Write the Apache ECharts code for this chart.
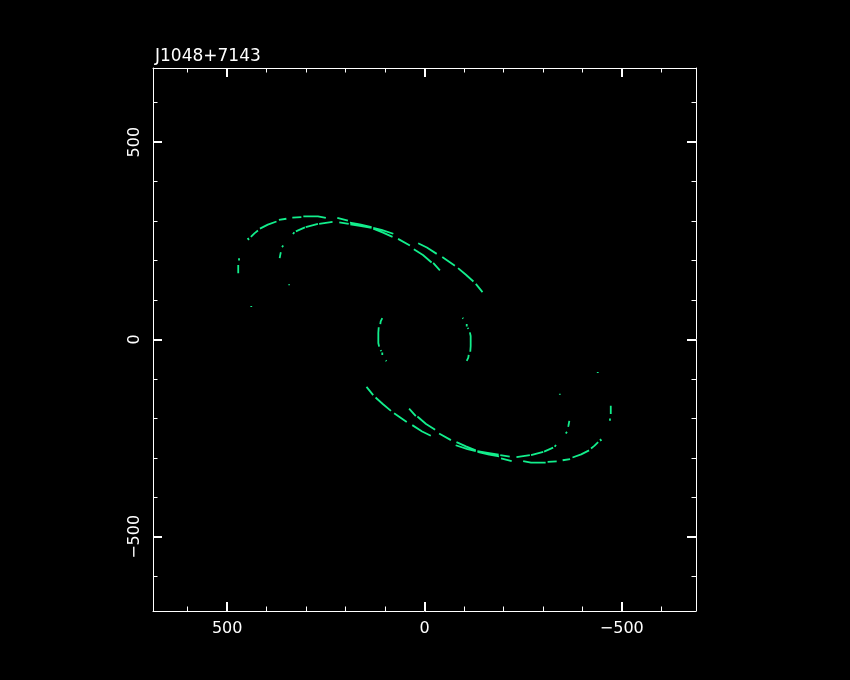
<!DOCTYPE html>
<html>
<head>
<meta charset="utf-8">
<script src="https://cdn.jsdelivr.net/npm/echarts@6/dist/echarts.min.js"></script>
<style>
html,body{margin:0;padding:0;background:#000;}
#chart{width:850px;height:680px;}
</style>
</head>
<body>
<div id="chart"></div>
<script>
// ---- data (u, v); the conjugate points (-u,-v) are plotted too ----
const chartTitle = 'J1048+7143';
const axisMin = -688;
const axisMax = 688;
const majorTicks = [-500, 0, 500];
const minorTicks = [-600, -400, -300, -200, -100, 100, 200, 300, 400, 600];

// outer large track (upper-left half), segments separated by gaps
const outerTrack = [
  [[472, 168], [472, 189]],
  [[470, 200], [470, 206]],
  [[445, 252], [448, 257]],
  [[440, 260], [431, 269], [422, 276]],
  [[417, 281], [397, 291], [375, 299]],
  [[369, 303], [350, 306]],
  [[335, 309], [312, 310]],
  [[307, 312], [270, 312], [250, 308]],
  [[221, 308], [194, 301]],
  [[189, 296], [164, 292], [134, 285]],
  [[130, 283], [109, 278], [79, 268]],
  [[16, 244], [-6, 233], [-31, 217]],
  [[-45, 209], [-77, 187]],
  [[-85, 181], [-105, 164], [-124, 147]],
  [[-130, 141], [-147, 120]]
];

// inner large track (upper-left half)
const innerTrack = [
  [[367, 206], [365, 217], [364, 221]],
  [[361, 234], [358, 238]],
  [[333, 267], [330, 272]],
  [[326, 274], [303, 284]],
  [[301, 285], [270, 293]],
  [[267, 293], [233, 298]],
  [[216, 297], [192, 293]],
  [[188, 292], [164, 288], [134, 283]],
  [[130, 281], [105, 271], [81, 260]],
  [[67, 255], [37, 238]],
  [[27, 229], [4, 214], [-18, 195]],
  [[-22, 194], [-39, 175]]
];

// small central track (left half)
const smallTrack = [
  [[107, 54], [111, 46], [112, 39]],
  [[116, 31], [117, 17], [117, -9], [115, -18]],
  [[111, -27], [110, -30]],
  [[107, -33], [107, -39]],
  [[98, -53], [96.5, -55]]
];

// isolated short samples
const isolatedPoints = [
  [[343, 140], [343, 137.5]],
  [[439, 85], [439, 82.5]]
];

// ---- build series data ----
function buildData(tracks) {
  const out = [];
  tracks.forEach(function (seg) {
    seg.forEach(function (p) { out.push([p[0], p[1]]); });
    out.push(null);
    seg.forEach(function (p) { out.push([-p[0], -p[1]]); });
    out.push(null);
  });
  return out;
}

const allData = buildData(outerTrack)
  .concat(buildData(innerTrack))
  .concat(buildData(smallTrack))
  .concat(buildData(isolatedPoints));

const green = '#12ee8c';
const white = '#ffffff';
const fmt = function (v) { return v < 0 ? '\u2212' + (-v) : String(v); };

function xAx(pos, ticks, len, w, showLine, showLabel) {
  return {
    type: 'value', position: pos, min: axisMin, max: axisMax, inverse: true,
    axisLine: { show: showLine, onZero: false, lineStyle: { color: white, width: 1 } },
    axisTick: { show: true, inside: true, length: len, customValues: ticks, lineStyle: { color: white, width: w } },
    axisLabel: { show: showLabel, customValues: majorTicks, formatter: fmt, color: white,
      fontFamily: 'DejaVu Sans', fontSize: 16, margin: 10 },
    splitLine: { show: false }
  };
}
function yAx(pos, ticks, len, w, showLine, showLabel) {
  return {
    type: 'value', position: pos, min: axisMin, max: axisMax,
    axisLine: { show: showLine, onZero: false, lineStyle: { color: white, width: 1 } },
    axisTick: { show: true, inside: true, length: len, customValues: ticks, lineStyle: { color: white, width: w } },
    axisLabel: { show: showLabel, customValues: majorTicks, formatter: fmt, color: white, rotate: 90,
      fontFamily: 'DejaVu Sans', fontSize: 16, margin: 10 },
    splitLine: { show: false }
  };
}

const chart = echarts.init(document.getElementById('chart'), null, { renderer: 'canvas' });
chart.setOption({
  backgroundColor: '#000000',
  animation: false,
  title: {
    text: chartTitle, left: 150, top: 43,
    textStyle: { color: white, fontFamily: 'DejaVu Sans', fontSize: 17, fontWeight: 'normal' }
  },
  grid: { left: 153, top: 68, width: 543, height: 543, containLabel: false },
  xAxis: [
    xAx('bottom', majorTicks, 9, 2, true, true),
    xAx('bottom', minorTicks, 4.5, 1, false, false),
    xAx('top', majorTicks, 9, 2, true, false),
    xAx('top', minorTicks, 4.5, 1, false, false)
  ],
  yAxis: [
    yAx('left', majorTicks, 9, 2, true, true),
    yAx('left', minorTicks, 4.5, 1, false, false),
    yAx('right', majorTicks, 9, 2, true, false),
    yAx('right', minorTicks, 4.5, 1, false, false)
  ],
  series: [{
    type: 'line',
    xAxisIndex: 0, yAxisIndex: 0,
    data: allData,
    connectNulls: false,
    showSymbol: false,
    symbol: 'none',
    silent: true,
    lineStyle: { color: green, width: 1.8, cap: 'butt' }
  }]
});
</script>
</body>
</html>
